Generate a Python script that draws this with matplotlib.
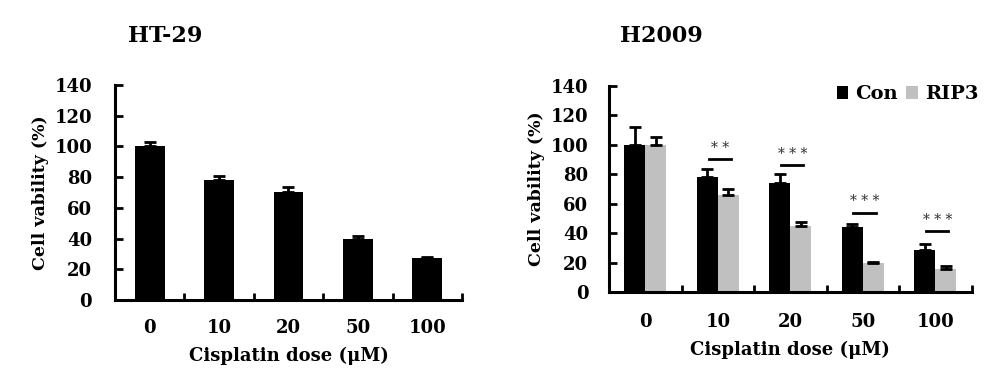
import numpy as np
import matplotlib
matplotlib.use('Agg')
import matplotlib.pyplot as plt

plt.rcParams['font.family'] = 'DejaVu Serif'
plt.rcParams['font.weight'] = 'bold'

# --- data ---
doses = ['0', '10', '20', '50', '100']

ht29_mean = [100, 78, 70.5, 40, 27.5]
ht29_err = [3, 2.5, 3.2, 1.5, 0.8]

h2009_con = [100, 78, 74, 44, 28.5]
h2009_con_err = [12, 5.8, 6, 2.5, 4.2]
h2009_rip3 = [100, 66, 45, 20, 16]
h2009_rip3_err = [5, 3.8, 2.4, 0.8, 1.5]

sig_labels = ['', '* *', '* * *', '* * *', '* * *']
sig_line_y = [None, 90, 86, 54, 41.5]

grey = '#c0c0c0'
x = np.arange(len(doses))


def style_axis(ax, ypad, xpad):
    ax.set_xlim(-0.5, len(doses) - 0.5)
    ax.set_ylim(0, 140)
    ax.set_yticks(range(0, 141, 20))
    ax.set_xticks(x)
    ax.set_xticklabels(doses)
    for s in ['top', 'right']:
        ax.spines[s].set_visible(False)
    for s in ['left', 'bottom']:
        ax.spines[s].set_linewidth(2.2)
    ax.tick_params(axis='y', direction='in', length=6, width=2, labelsize=13, pad=ypad)
    ax.tick_params(axis='x', length=0, labelsize=13, pad=xpad)
    # small inward ticks on the category boundaries
    ax.set_xticks(np.arange(0.5, len(doses)), minor=True)
    ax.tick_params(axis='x', which='minor', direction='in', length=5, width=2)
    ax.set_xlabel('Cisplatin dose (\u03bcM)', fontsize=13, fontweight='bold', labelpad=7)
    ax.set_ylabel('Cell vability (%)', fontsize=12.5, fontweight='bold', labelpad=4)


fig = plt.figure(figsize=(10.02, 3.86), dpi=100)

# --- HT-29 ---
ax1 = fig.add_axes([0.1148, 0.2228, 0.3462, 0.557])
ax1.bar(x, ht29_mean, width=0.43, color='black')
ax1.errorbar(x, ht29_mean, yerr=[np.zeros(5), ht29_err], fmt='none',
             ecolor='black', elinewidth=2, capsize=4, capthick=2)
style_axis(ax1, 16.5, 14)
fig.text(0.128, 0.908, 'HT-29', fontsize=16, fontweight='bold', va='center')

# --- H2009 ---
ax2 = fig.add_axes([0.608, 0.2427, 0.3617, 0.5353])
w = 0.29
ax2.bar(x - w / 2, h2009_con, width=w, color='black', label='Con')
ax2.bar(x + w / 2, h2009_rip3, width=w, color=grey, label='RIP3')
ax2.errorbar(x - w / 2, h2009_con, yerr=[np.zeros(5), h2009_con_err], fmt='none',
             ecolor='black', elinewidth=2, capsize=4, capthick=2)
ax2.errorbar(x + w / 2, h2009_rip3, yerr=[np.zeros(5), h2009_rip3_err], fmt='none',
             ecolor='black', elinewidth=2, capsize=4, capthick=2)
for i in range(len(doses)):
    if sig_line_y[i] is None:
        continue
    ax2.plot([i - 0.13, i + 0.18], [sig_line_y[i]] * 2, color='black', lw=2)
    ax2.text(i + 0.025, sig_line_y[i] + 3, sig_labels[i], fontsize=10,
             ha='center', va='bottom', color='#333333', fontweight='normal')
style_axis(ax2, 15, 15)
ax2.legend(loc='upper right', frameon=False, fontsize=14, ncol=2,
           handlelength=0.6, handleheight=0.6, handletextpad=0.35,
           columnspacing=0.45, borderaxespad=0.0, bbox_to_anchor=(1.04, 1.04))
fig.text(0.619, 0.908, 'H2009', fontsize=16, fontweight='bold', va='center')

fig.savefig('out.png', dpi=100)
